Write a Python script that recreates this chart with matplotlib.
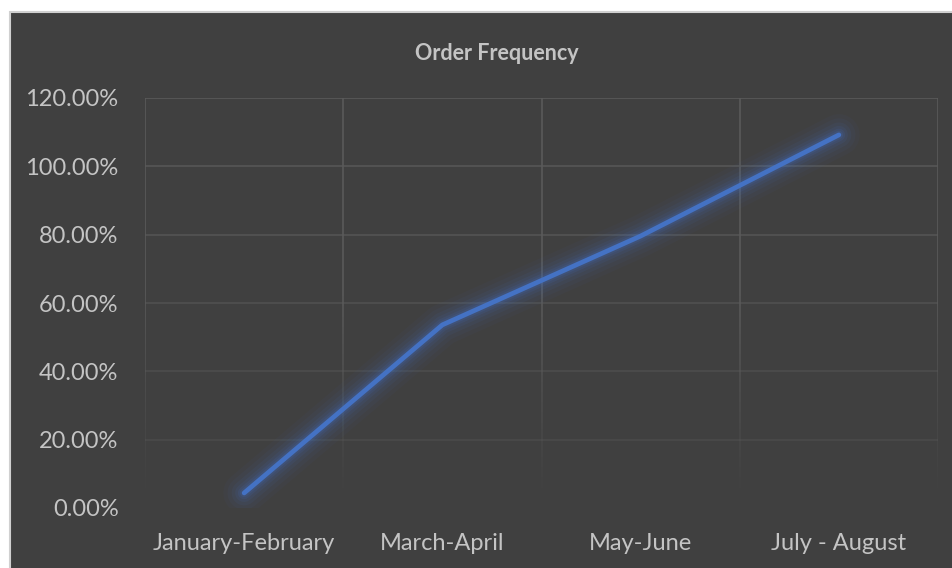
import numpy as np
import matplotlib as mpl
mpl.use('Agg')
import matplotlib.pyplot as plt
from matplotlib.patches import Rectangle
from matplotlib.collections import LineCollection
from matplotlib.ticker import FuncFormatter, MultipleLocator

periods = ['January-February', 'March-April', 'May-June', 'July - August']
frequency = [4.4, 53.6, 79.6, 109.2]

plt.rcParams['font.family'] = ['Lato', 'DejaVu Sans']

bg = '#404040'
text_col = '#c4c4c4'
grid_col = '#5a5a5a'
line_col = '#4472c4'

fig = plt.figure(figsize=(9.52, 5.68), dpi=100, facecolor='white')

# dark chart panel, offset like the screenshot
panel = fig.add_axes([0, 0, 1, 1], zorder=0)
panel.axis('off')
panel.set_xlim(0, 1)
panel.set_ylim(0, 1)
panel.add_patch(Rectangle((10 / 952, -0.01), 1, 0.01 + (568 - 12) / 568,
                          facecolor=bg, edgecolor='#d0d0d0', lw=1.5))

ax = fig.add_axes([145 / 952, 60 / 568, 793 / 952, 410 / 568], zorder=1)
ax.set_facecolor(bg)
for s in ax.spines.values():
    s.set_visible(False)

x = np.arange(len(periods))
ymax = 120

# gridlines that fade out toward the bottom of the plot
for v in np.arange(20, ymax + 1, 20):
    ax.axhline(v, color=grid_col, lw=1.2, alpha=0.25 + 0.75 * v / ymax, zorder=1)
ys = np.linspace(0, ymax, 121)
for xv in np.arange(-0.5, len(periods)):
    segs = [[(xv, ys[i]), (xv, ys[i + 1])] for i in range(len(ys) - 1)]
    alphas = np.clip((ys[:-1] - 3) / 60, 0, 1)
    cols = [mpl.colors.to_rgba(grid_col, a) for a in alphas]
    ax.add_collection(LineCollection(segs, colors=cols, lw=1.2, zorder=1))

# soft glow under the line
for w, a in [(30, 0.04), (24, 0.05), (18, 0.07), (13, 0.09), (9, 0.12), (6, 0.16)]:
    ax.plot(x, frequency, color=line_col, lw=w, alpha=a, solid_capstyle='round', zorder=2)
ax.plot(x, frequency, color=line_col, lw=3.4, solid_capstyle='round', zorder=3)

ax.set_xlim(-0.5, len(periods) - 0.5)
ax.set_ylim(0, ymax)
ax.yaxis.set_major_locator(MultipleLocator(20))
ax.yaxis.set_major_formatter(FuncFormatter(lambda v, p: f'{v:.2f}%'))
ax.set_xticks(x)
ax.set_xticklabels(periods)

ax.tick_params(axis='both', which='both', length=0, labelsize=17, colors=text_col)
ax.tick_params(axis='x', pad=18)
ax.tick_params(axis='y', pad=19)

fig.text(497 / 952, 1 - 53 / 568, 'Order Frequency', ha='center', va='center',
         fontsize=15.5, fontweight='bold', color=text_col)

plt.savefig('out.png', dpi=100, facecolor=fig.get_facecolor())
